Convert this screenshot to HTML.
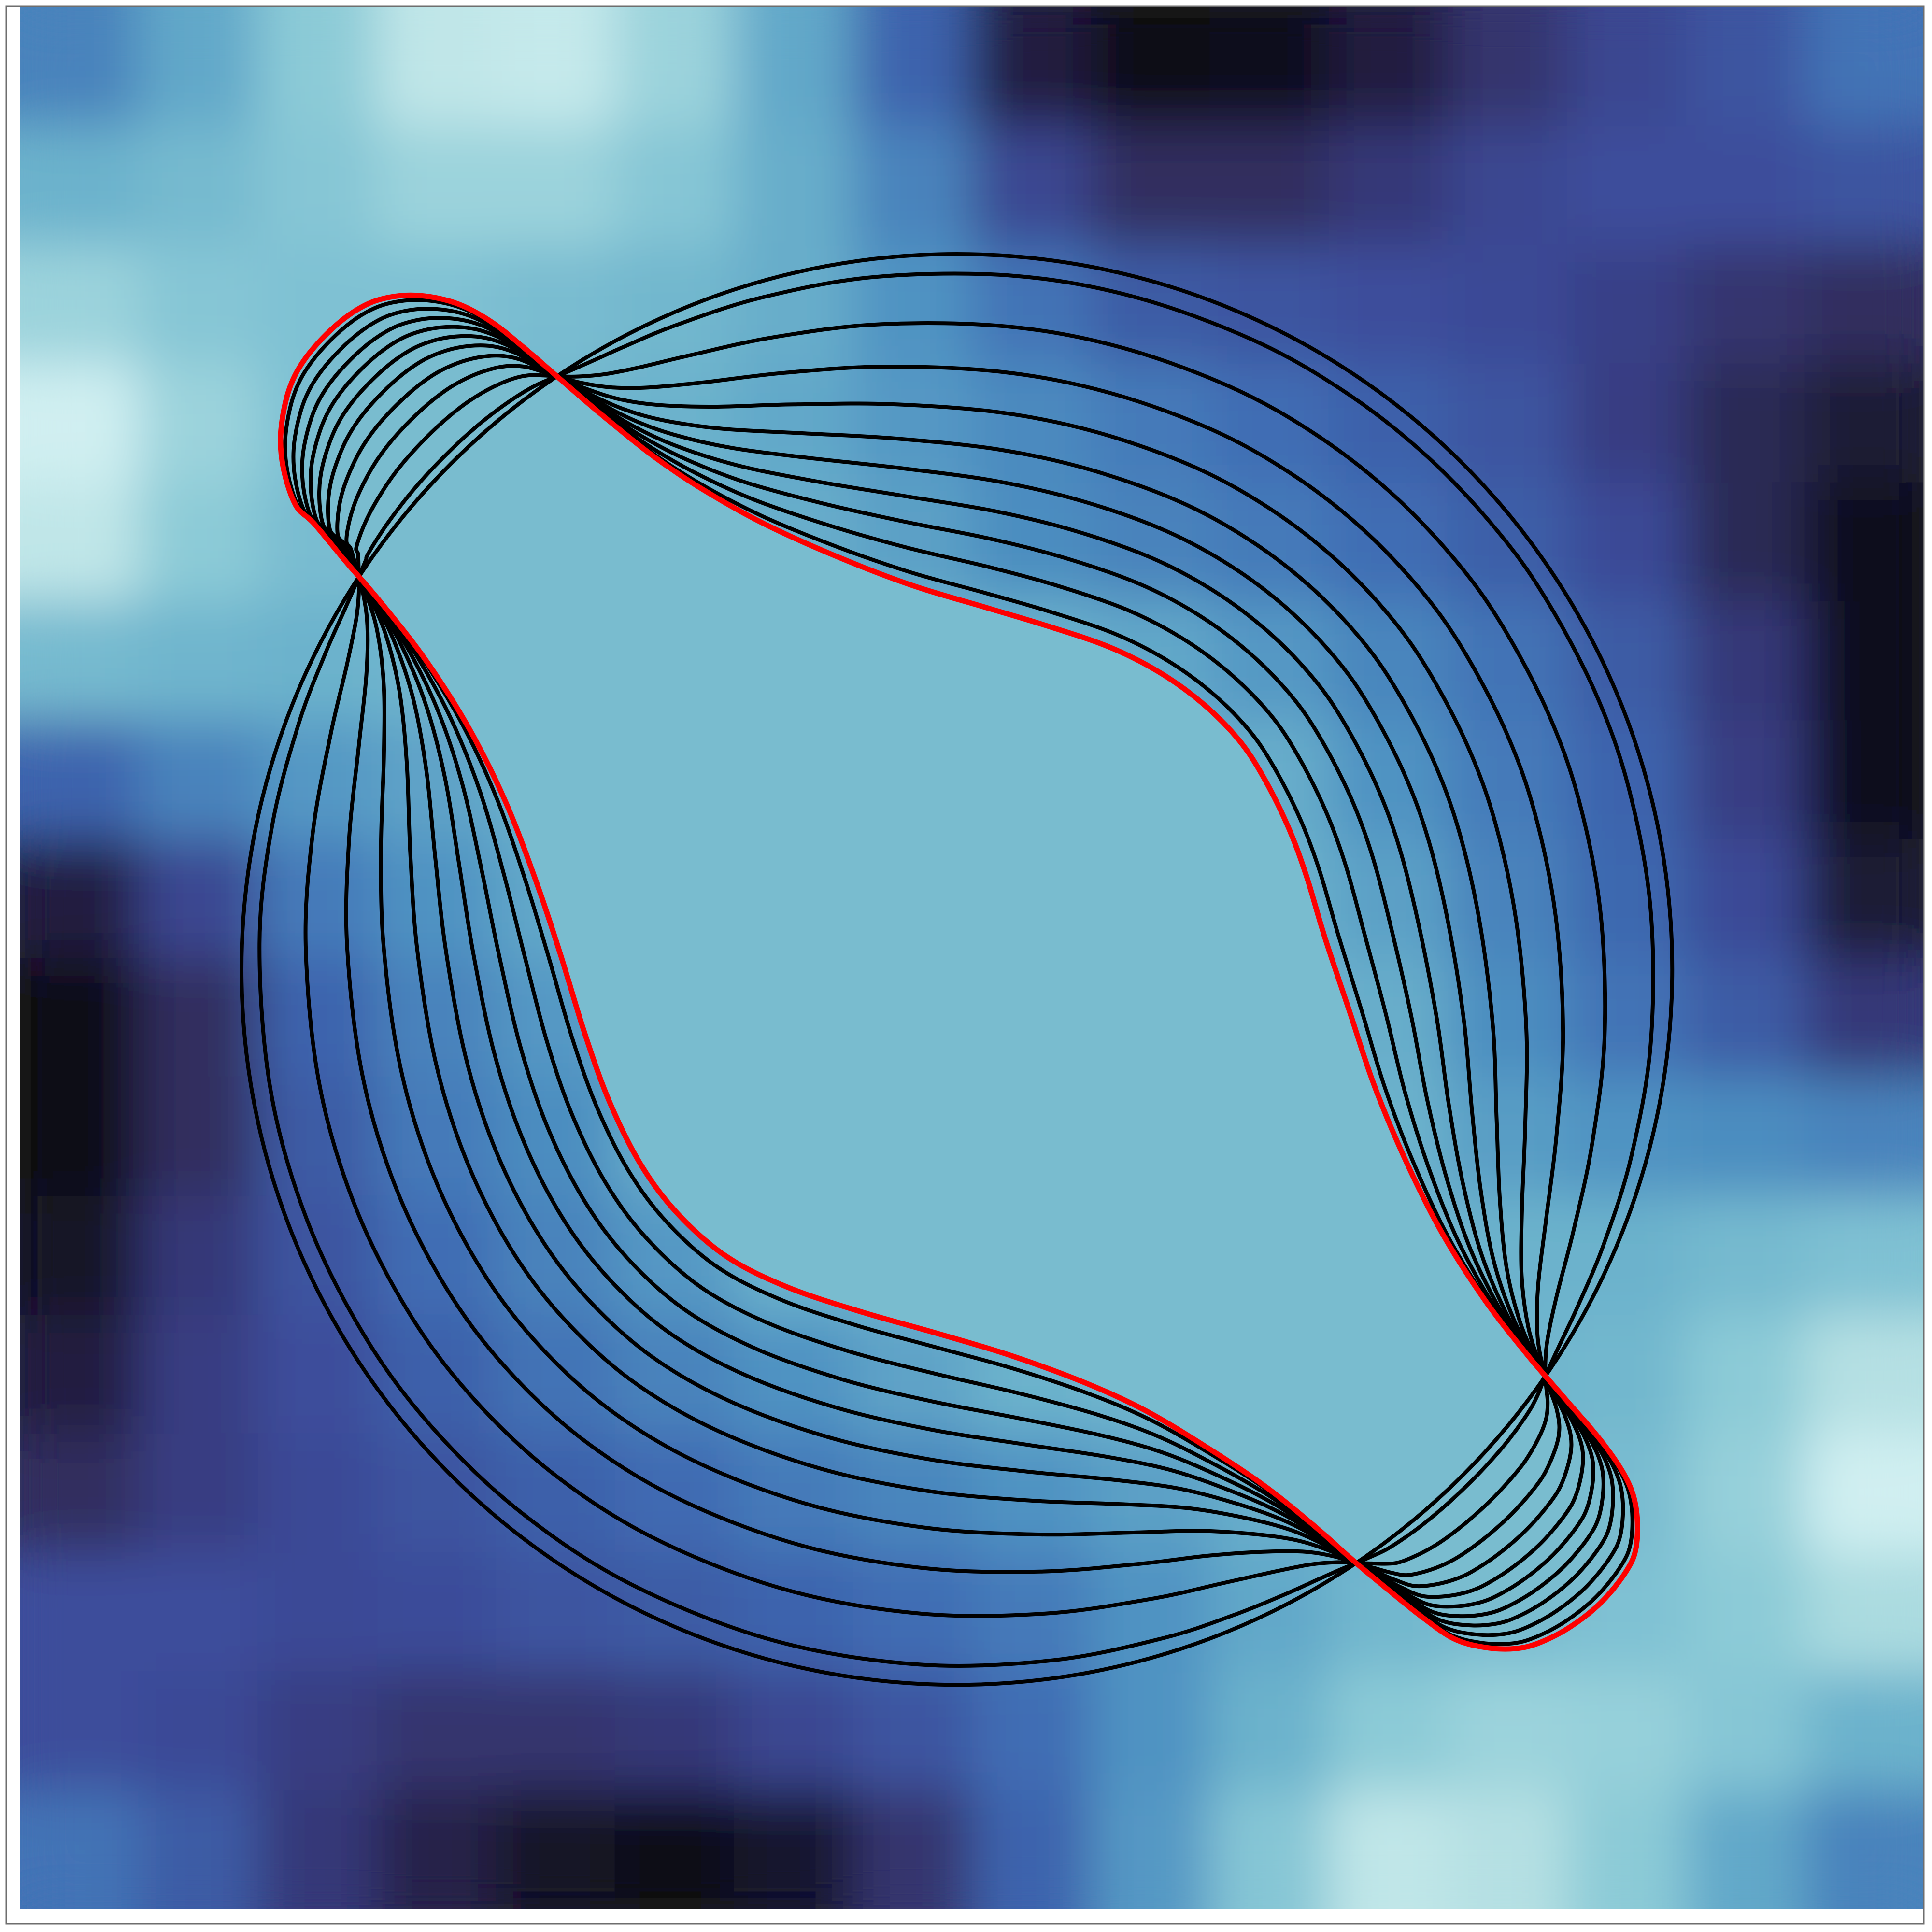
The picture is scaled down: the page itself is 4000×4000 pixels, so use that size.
<!DOCTYPE html>
<html><head><meta charset="utf-8"><style>html,body{margin:0;padding:0;background:#fff;width:4000px;height:4000px;overflow:hidden}svg{display:block;overflow:hidden}</style></head>
<body>
<svg id="chart" width="4000" height="4000" viewBox="0 0 4000 4000" xmlns="http://www.w3.org/2000/svg">
<defs>
<filter id="soft" filterUnits="userSpaceOnUse" x="41" y="14" width="3942" height="3939"><feGaussianBlur stdDeviation="55"/><feComponentTransfer><feFuncA type="linear" slope="0" intercept="1"/></feComponentTransfer></filter>
</defs>
<g id="heat"><g id="heatcells" filter="url(#soft)"></g></g>
<g id="interior"></g>
<g id="contours"></g>
<rect x="13" y="13" width="3970" height="3970" fill="none" stroke="#6e6e6e" stroke-width="3"/>
</svg>
<script>
// field values (0 = dark, 1 = light), 16x16 coarse grid, rows top -> bottom
const fieldRows = [
[0.55,0.68,0.82,0.92,0.93,0.85,0.68,0.45,0.15,0.03,0.05,0.15,0.28,0.35,0.40,0.50],
[0.72,0.75,0.80,0.85,0.85,0.80,0.70,0.55,0.35,0.25,0.25,0.30,0.35,0.38,0.38,0.40],
[0.85,0.80,0.78,0.78,0.76,0.74,0.70,0.60,0.50,0.42,0.40,0.38,0.36,0.33,0.28,0.25],
[0.95,0.85,0.78,0.75,0.74,0.72,0.68,0.62,0.57,0.52,0.48,0.44,0.40,0.32,0.22,0.12],
[0.92,0.82,0.76,0.74,0.73,0.72,0.70,0.65,0.58,0.55,0.52,0.48,0.43,0.36,0.22,0.05],
[0.75,0.73,0.72,0.73,0.73,0.73,0.73,0.73,0.72,0.68,0.62,0.56,0.50,0.42,0.30,0.04],
[0.45,0.55,0.62,0.66,0.72,0.73,0.73,0.73,0.73,0.73,0.70,0.60,0.52,0.45,0.32,0.05],
[0.15,0.35,0.52,0.60,0.68,0.73,0.73,0.73,0.73,0.73,0.72,0.65,0.55,0.46,0.36,0.12],
[0.03,0.25,0.45,0.55,0.62,0.72,0.73,0.73,0.73,0.73,0.73,0.70,0.58,0.50,0.42,0.30],
[0.03,0.25,0.42,0.52,0.58,0.70,0.73,0.73,0.73,0.73,0.73,0.72,0.64,0.60,0.58,0.55],
[0.08,0.30,0.40,0.48,0.55,0.62,0.72,0.73,0.73,0.73,0.73,0.73,0.72,0.72,0.75,0.78],
[0.15,0.32,0.38,0.44,0.50,0.55,0.60,0.66,0.72,0.73,0.73,0.73,0.73,0.74,0.82,0.90],
[0.25,0.32,0.36,0.40,0.44,0.47,0.52,0.56,0.60,0.65,0.70,0.72,0.74,0.76,0.84,0.95],
[0.38,0.38,0.36,0.37,0.40,0.42,0.45,0.48,0.52,0.60,0.68,0.74,0.76,0.78,0.82,0.88],
[0.38,0.36,0.32,0.28,0.28,0.30,0.35,0.40,0.48,0.60,0.72,0.82,0.85,0.84,0.80,0.72],
[0.50,0.42,0.30,0.18,0.08,0.03,0.10,0.28,0.45,0.62,0.80,0.92,0.90,0.82,0.68,0.55]
];
// colormap stops
const cmapPos = [0,0.12,0.25,0.36,0.48,0.6,0.72,0.82,0.9,1.0];
const cmapCol = ["#03050f","#1a1a35","#322d5f","#3b4896","#3f6db4","#4f93c2","#6cb2cc","#8ccbd7","#b5e0e3","#ebfefe"];
// final (red) contour, data coords
const redX = [240,230,228,235,250,275,300,325,350,375,400,425,455,490,530,570,620,680,740,800,850,900,940,975,1005,1025,1045,1060,1075,1095,1115,1140,1170,1205,1240,1270,1300,1320,1328,1328,1320,1300,1275,1250,1230,1205,1180,1155,1130,1100,1065,1025,980,930,880,820,760,700,640,590,550,520,495,475,455,435,410,380,345,310,280,255];
const redY = [410,380,350,315,288,262,246,240,241,248,262,282,308,338,370,397,425,452,475,493,508,525,545,570,600,630,670,710,760,820,880,940,1000,1055,1100,1135,1170,1200,1225,1255,1275,1300,1320,1333,1338,1337,1330,1313,1293,1268,1237,1205,1175,1145,1122,1100,1082,1065,1045,1020,985,945,895,840,775,715,650,590,535,490,455,425];
// initial circle
const circleCX = 776.6, circleCY = 786.8, circleR = 580.6;
// evolution fractions for intermediate contours
const stepFrac = [0,0.055,0.2,0.33,0.445,0.55,0.64,0.725,0.805,0.885,0.96];

const NS = "http://www.w3.org/2000/svg";
const sx = d => d * 2.551, sy = d => d * 2.551;
const HX0 = 41, HX1 = 3983, HY0 = 14, HY1 = 3953;
function hex(c){return [parseInt(c.substr(1,2),16),parseInt(c.substr(3,2),16),parseInt(c.substr(5,2),16)];}
function cmap(v){
  v=Math.max(0,Math.min(1,v));
  for(let i=0;i<cmapPos.length-1;i++){
    if(v<=cmapPos[i+1]){
      const f=(v-cmapPos[i])/(cmapPos[i+1]-cmapPos[i]);
      const a=hex(cmapCol[i]),b=hex(cmapCol[i+1]);
      return "rgb("+a.map((x,k)=>Math.round(x+(b[k]-x)*f)).join(",")+")";
    }
  }
  return cmapCol[cmapCol.length-1];
}
const nR = fieldRows.length, nC = fieldRows[0].length;
const cw = (HX1-HX0)/nC, ch = (HY1-HY0)/nR;
const hc = document.getElementById("heatcells");
for(let r=0;r<nR;r++) for(let c=0;c<nC;c++){
  const el=document.createElementNS(NS,"rect");
  
  
  const x0=HX0+c*cw, y0=HY0+r*ch;
  el.setAttribute("x",x0.toFixed(1));el.setAttribute("y",y0.toFixed(1));
  el.setAttribute("width",(Math.min(HX1,x0+cw+1)-x0).toFixed(1));
  el.setAttribute("height",(Math.min(HY1,y0+ch+1)-y0).toFixed(1));
  el.setAttribute("fill",cmap(fieldRows[r][c]));
  hc.appendChild(el);
}
function curvePath(t){
  const pts=[];
  for(let i=0;i<redX.length;i++){
    const dx=redX[i]-circleCX, dy=redY[i]-circleCY;
    const rr=Math.hypot(dx,dy), th=Math.atan2(dy,dx);
    const R=(1-t)*circleR+t*rr;
    pts.push([sx(circleCX+R*Math.cos(th)), sy(circleCY+R*Math.sin(th))]);
  }
  const n=pts.length;
  let d="M"+pts[0][0].toFixed(1)+","+pts[0][1].toFixed(1);
  for(let i=0;i<n;i++){
    const p0=pts[(i-1+n)%n],p1=pts[i],p2=pts[(i+1)%n],p3=pts[(i+2)%n];
    const c1=[p1[0]+(p2[0]-p0[0])/6,p1[1]+(p2[1]-p0[1])/6];
    const c2=[p2[0]-(p3[0]-p1[0])/6,p2[1]-(p3[1]-p1[1])/6];
    d+=" C"+c1[0].toFixed(1)+","+c1[1].toFixed(1)+" "+c2[0].toFixed(1)+","+c2[1].toFixed(1)+" "+p2[0].toFixed(1)+","+p2[1].toFixed(1);
  }
  return d+"Z";
}
const interior=document.getElementById("interior");
const fillEl=document.createElementNS(NS,"path");


fillEl.setAttribute("d",curvePath(1));
fillEl.setAttribute("fill","#79bccf");
interior.appendChild(fillEl);
const cg=document.getElementById("contours");
stepFrac.forEach((t,k)=>{
  let el;
  if(t===0){
    el=document.createElementNS(NS,"circle");
    el.setAttribute("cx",sx(circleCX));el.setAttribute("cy",sy(circleCY));el.setAttribute("r",sx(circleR));
  } else {
    el=document.createElementNS(NS,"path");
    el.setAttribute("d",curvePath(t));
  }
  
  
  el.setAttribute("fill","none");el.setAttribute("stroke","#000");
  el.setAttribute("stroke-width","8");el.setAttribute("stroke-linejoin","round");
  cg.appendChild(el);
});
const red=document.createElementNS(NS,"path");


red.setAttribute("d",curvePath(1));
red.setAttribute("fill","none");red.setAttribute("stroke","#ff0000");
red.setAttribute("stroke-width","11");red.setAttribute("stroke-linejoin","round");
cg.appendChild(red);
</script>
</body></html>
